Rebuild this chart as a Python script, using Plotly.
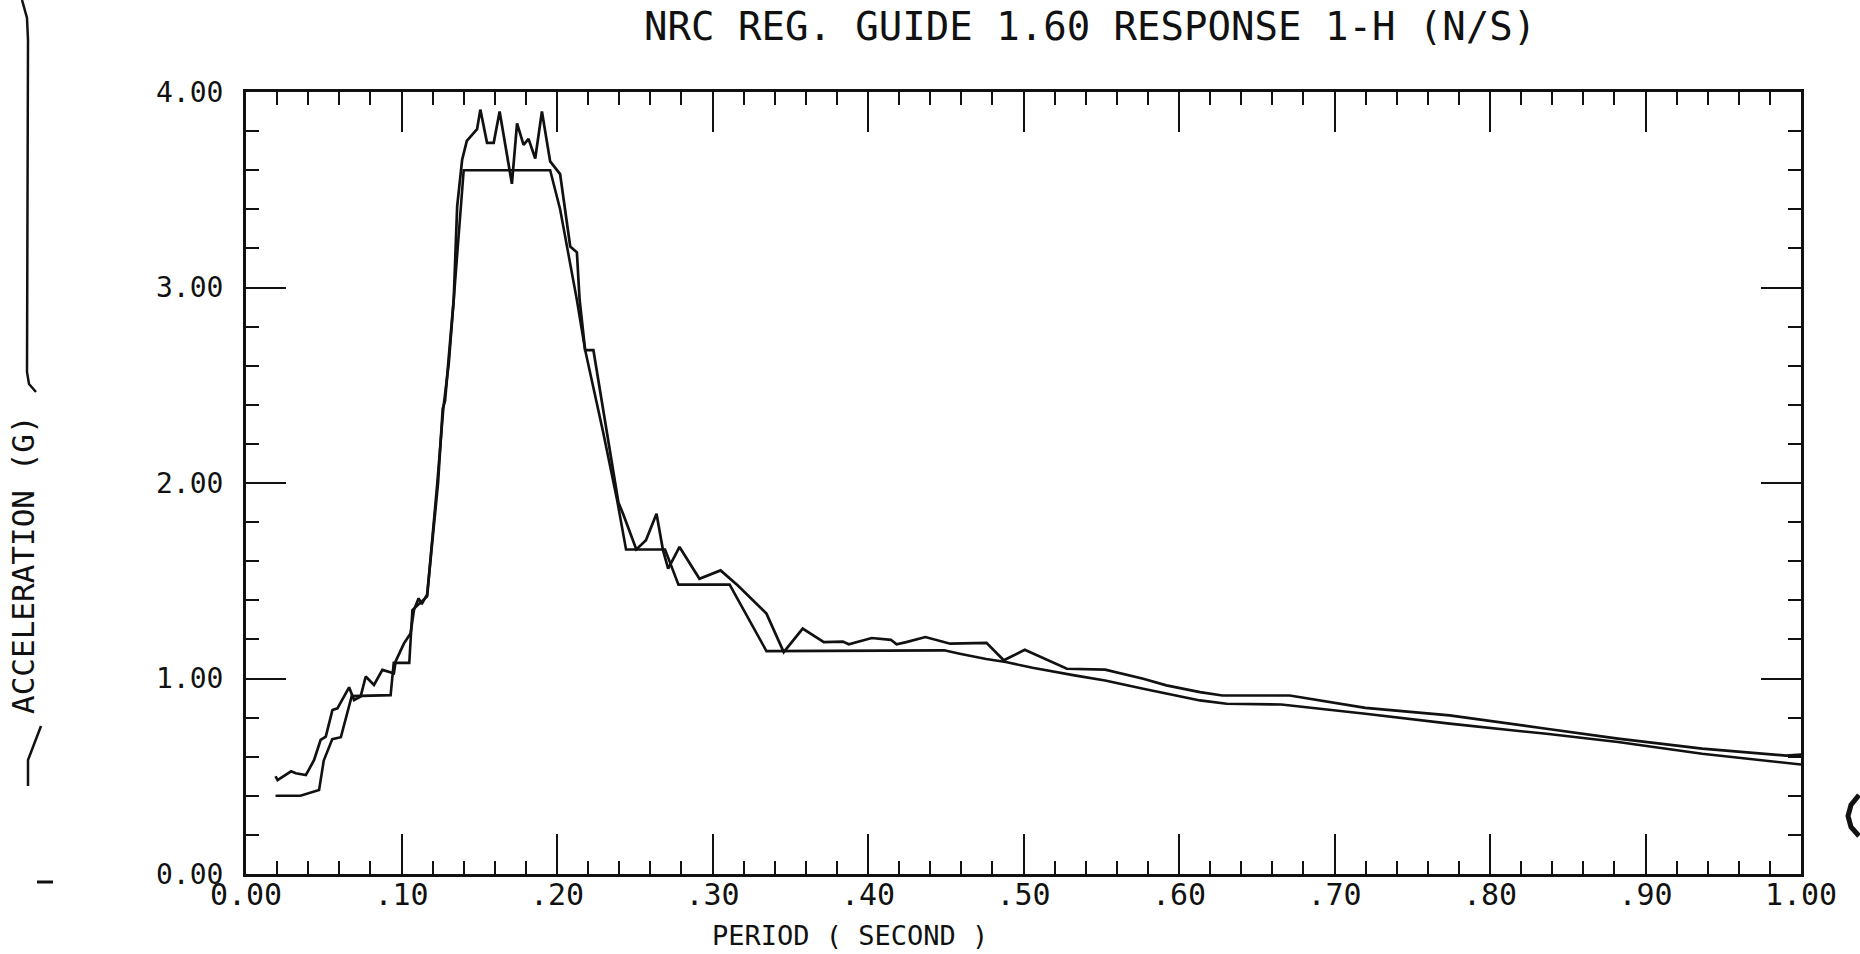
import plotly.graph_objects as go

# ---- data ----
design_period = [0.019, 0.035, 0.047, 0.050, 0.0555, 0.061, 0.068, 0.093, 0.095, 0.105, 0.107, 0.1165,
                 0.123, 0.127, 0.1304, 0.140, 0.1956, 0.202, 0.2127, 0.2181, 0.2298, 0.2387, 0.2444,
                 0.2695, 0.2781, 0.311, 0.3347, 0.449, 0.459, 0.476, 0.4886, 0.5058, 0.5328, 0.5525,
                 0.577, 0.5919, 0.6135, 0.6306, 0.6658, 0.7199, 0.774, 0.8363, 0.8823, 0.9364, 1.0]
design_accel = [0.40, 0.40, 0.43, 0.58, 0.69, 0.70, 0.91, 0.915, 1.08, 1.08, 1.35, 1.42,
                2.0, 2.39, 2.61, 3.60, 3.60, 3.40, 2.94, 2.68, 2.255, 1.91, 1.66,
                1.66, 1.48, 1.48, 1.14, 1.144, 1.127, 1.10, 1.084, 1.055, 1.016, 0.99,
                0.948, 0.922, 0.888, 0.871, 0.867, 0.82, 0.769, 0.717, 0.675, 0.615, 0.56]

response_period = [0.019, 0.0203, 0.029, 0.032, 0.0385, 0.0438, 0.048, 0.0513, 0.0556, 0.0588,
                   0.0663, 0.0695, 0.0737, 0.077, 0.0823, 0.0877, 0.0951, 0.0962, 0.1016, 0.1058,
                   0.108, 0.111, 0.113, 0.1165, 0.1235, 0.1265, 0.128, 0.1300, 0.1336, 0.1358,
                   0.139, 0.142, 0.1486, 0.1507, 0.155, 0.1593, 0.1631, 0.171, 0.1743, 0.1785,
                   0.1817, 0.186, 0.1903, 0.1956, 0.1988, 0.202, 0.2085, 0.2128, 0.2145, 0.2181,
                   0.2234, 0.232, 0.2395, 0.2426, 0.251, 0.2572, 0.264, 0.2682, 0.2715, 0.2788,
                   0.2916, 0.3052, 0.3163, 0.3347, 0.3458, 0.358, 0.3716, 0.3839, 0.3876, 0.4024,
                   0.4147, 0.4184, 0.4246, 0.4369, 0.4529, 0.4762, 0.4873, 0.5008, 0.5279, 0.5525,
                   0.577, 0.5919, 0.6135, 0.6279, 0.6712, 0.7199, 0.774, 0.8363, 0.8823, 0.9364,
                   0.9905, 1.0]
response_accel = [0.50, 0.48, 0.525, 0.515, 0.506, 0.583, 0.686, 0.703, 0.839, 0.847,
                  0.955, 0.89, 0.907, 1.01, 0.967, 1.044, 1.027, 1.087, 1.18, 1.23,
                  1.35, 1.41, 1.38, 1.43, 2.0, 2.38, 2.42, 2.60, 2.94, 3.415,
                  3.654, 3.75, 3.81, 3.91, 3.74, 3.74, 3.90, 3.53, 3.84, 3.73,
                  3.76, 3.66, 3.90, 3.645, 3.61, 3.58, 3.21, 3.18, 2.94, 2.68,
                  2.68, 2.255, 1.90, 1.84, 1.66, 1.707, 1.843, 1.655, 1.562, 1.673,
                  1.51, 1.553, 1.476, 1.332, 1.135, 1.255, 1.186, 1.189, 1.175, 1.207,
                  1.198, 1.175, 1.186, 1.212, 1.178, 1.182, 1.093, 1.147, 1.05, 1.045,
                  0.999, 0.965, 0.93, 0.913, 0.913, 0.85, 0.811, 0.743, 0.692, 0.641,
                  0.606, 0.611]

x_tickvals = [0.0, 0.1, 0.2, 0.3, 0.4, 0.5, 0.6, 0.7, 0.8, 0.9, 1.0]
x_ticktext = ["0.00", ".10", ".20", ".30", ".40", ".50", ".60", ".70", ".80", ".90", "1.00"]
y_tickvals = [0, 1, 2, 3, 4]
y_ticktext = ["0.00", "1.00", "2.00", "3.00", "4.00"]

title_text = "NRC REG. GUIDE 1.60 RESPONSE 1-H (N/S)"
x_title = "PERIOD ( SECOND )"
y_title = "ACCELERATION (G)"

# ---- layout geometry (pixels) ----
W, H = 1860, 954
L, R, T, B = 246, 59, 92, 80
PW, PH = W - L - R, H - T - B


def px(x):
    return (x - L) / PW


def py(y):
    return (H - B - y) / PH


FONT = "DejaVu Sans Mono"
INK = "#111111"

fig = go.Figure()
fig.add_trace(go.Scatter(x=design_period, y=design_accel, mode="lines",
                         line=dict(color=INK, width=2.6), showlegend=False))
fig.add_trace(go.Scatter(x=response_period, y=response_accel, mode="lines",
                         line=dict(color=INK, width=2.7), showlegend=False))

axis_common = dict(showgrid=False, zeroline=False, showline=True, linecolor=INK, linewidth=3,
                   mirror="ticks", ticks="inside", ticklen=40, tickwidth=2.2, tickcolor=INK)

fig.update_xaxes(range=[0, 1], tickvals=x_tickvals, ticktext=x_ticktext,
                 minor=dict(dtick=0.02, tick0=0, ticks="inside", ticklen=13, tickwidth=2.2, tickcolor=INK),
                 tickfont=dict(family=FONT, size=30, color=INK),
                 ticklabelstandoff=-8, **axis_common)
fig.update_yaxes(range=[0, 4], tickvals=y_tickvals, ticktext=y_ticktext,
                 minor=dict(dtick=0.2, tick0=0, ticks="inside", ticklen=13, tickwidth=2.2, tickcolor=INK),
                 tickfont=dict(family=FONT, size=28, color=INK),
                 ticklabelstandoff=14, **axis_common)

annotations = [
    dict(text=title_text, x=px(1090), y=py(27), xref="paper", yref="paper",
         xanchor="center", yanchor="middle", showarrow=False,
         font=dict(family=FONT, size=39, color=INK)),
    dict(text=x_title, x=px(850), y=py(935), xref="paper", yref="paper",
         xanchor="center", yanchor="middle", showarrow=False,
         font=dict(family=FONT, size=27, color=INK)),
    dict(text=y_title, x=px(23), y=py(565), xref="paper", yref="paper",
         xanchor="center", yanchor="middle", showarrow=False, textangle=-90,
         font=dict(family=FONT, size=31, color=INK)),
]


def path_shape(points, width=2.5):
    d = "M " + " L ".join(f"{px(x):.5f},{py(y):.5f}" for x, y in points)
    return dict(type="path", path=d, xref="paper", yref="paper",
                line=dict(color=INK, width=width))


shapes = [
    path_shape([(22, 0), (27, 18), (28, 40), (27, 372), (29, 384), (36, 392)]),
    path_shape([(41, 726), (28, 760), (28, 786)]),
    path_shape([(37, 882), (53, 882)], width=3),
    path_shape([(1859, 795), (1851, 805), (1848, 816), (1851, 827), (1859, 836)], width=5),
]

fig.update_layout(width=W, height=H, autosize=False,
                  margin=dict(l=L, r=R, t=T, b=B),
                  paper_bgcolor="white", plot_bgcolor="white",
                  annotations=annotations, shapes=shapes)

fig.write_html("out.html")
